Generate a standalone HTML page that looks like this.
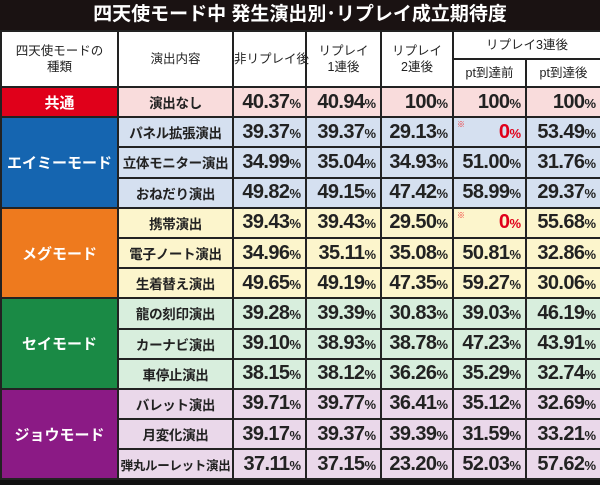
<!DOCTYPE html><html><head><meta charset="utf-8"><style>
body{margin:0;width:600px;height:485px;background:#111;overflow:hidden;font-family:"Liberation Sans","Noto Sans CJK JP",sans-serif}
.t{height:30px;color:#fff;font-weight:bold;font-size:19px;text-align:center;line-height:30px;background:#1a1212}
table{border-collapse:collapse;position:absolute;top:30px;left:0;width:600px;table-layout:fixed}
td{border:2px solid #222;padding:0;text-align:center;font-size:13px;color:#222}
.h td{background:#fff;font-size:12.5px;line-height:16px;white-space:nowrap}
.m{color:#fff;font-weight:bold;font-size:15px}
.r td{height:28.2px}
.e{font-weight:bold;font-size:13.5px;white-space:nowrap;letter-spacing:-0.3px}
.n{font-weight:bold;font-size:20px;text-align:right;padding-right:4px;color:#222;position:relative;letter-spacing:-0.6px;white-space:nowrap}
.n small{font-size:13px;letter-spacing:0}
.z{color:#e0001a}
.z:before{content:"※";position:absolute;left:3px;top:1px;font-size:8px;color:#e33}
</style></head><body>
<div class="t">四天使モード中 発生演出別･リプレイ成立期待度</div>
<table>
<colgroup><col style="width:117px"><col style="width:115px"><col style="width:73px"><col style="width:75px"><col style="width:72px"><col style="width:73px"><col style="width:75px"></colgroup>
<tr class="h"><td rowspan="2" style="height:54px">四天使モードの<br>種類</td><td rowspan="2">演出内容</td><td rowspan="2">非リプレイ後</td><td rowspan="2">リプレイ<br>1連後</td><td rowspan="2">リプレイ<br>2連後</td><td colspan="2" style="height:25px">リプレイ3連後</td></tr>
<tr class="h"><td style="height:25px">pt到達前</td><td>pt到達後</td></tr>
<tr class="r" style="background:#f9dcdc"><td class="m" style="background:#e0001a">共通</td><td class="e">演出なし</td><td class="n">40.37<small>%</small></td><td class="n">40.94<small>%</small></td><td class="n">100<small>%</small></td><td class="n">100<small>%</small></td><td class="n">100<small>%</small></td></tr>
<tr class="r" style="background:#d5e0f0"><td class="m" rowspan="3" style="background:#1565b0">エイミーモード</td><td class="e">パネル拡張演出</td><td class="n">39.37<small>%</small></td><td class="n">39.37<small>%</small></td><td class="n">29.13<small>%</small></td><td class="n z">0<small>%</small></td><td class="n">53.49<small>%</small></td></tr>
<tr class="r" style="background:#d5e0f0"><td class="e">立体モニター演出</td><td class="n">34.99<small>%</small></td><td class="n">35.04<small>%</small></td><td class="n">34.93<small>%</small></td><td class="n">51.00<small>%</small></td><td class="n">31.76<small>%</small></td></tr>
<tr class="r" style="background:#d5e0f0"><td class="e">おねだり演出</td><td class="n">49.82<small>%</small></td><td class="n">49.15<small>%</small></td><td class="n">47.42<small>%</small></td><td class="n">58.99<small>%</small></td><td class="n">29.37<small>%</small></td></tr>
<tr class="r" style="background:#fcf5cc"><td class="m" rowspan="3" style="background:#ee7a1e">メグモード</td><td class="e">携帯演出</td><td class="n">39.43<small>%</small></td><td class="n">39.43<small>%</small></td><td class="n">29.50<small>%</small></td><td class="n z">0<small>%</small></td><td class="n">55.68<small>%</small></td></tr>
<tr class="r" style="background:#fcf5cc"><td class="e">電子ノート演出</td><td class="n">34.96<small>%</small></td><td class="n">35.11<small>%</small></td><td class="n">35.08<small>%</small></td><td class="n">50.81<small>%</small></td><td class="n">32.86<small>%</small></td></tr>
<tr class="r" style="background:#fcf5cc"><td class="e">生着替え演出</td><td class="n">49.65<small>%</small></td><td class="n">49.19<small>%</small></td><td class="n">47.35<small>%</small></td><td class="n">59.27<small>%</small></td><td class="n">30.06<small>%</small></td></tr>
<tr class="r" style="background:#d8eedd"><td class="m" rowspan="3" style="background:#1a8a45">セイモード</td><td class="e">龍の刻印演出</td><td class="n">39.28<small>%</small></td><td class="n">39.39<small>%</small></td><td class="n">30.83<small>%</small></td><td class="n">39.03<small>%</small></td><td class="n">46.19<small>%</small></td></tr>
<tr class="r" style="background:#d8eedd"><td class="e">カーナビ演出</td><td class="n">39.10<small>%</small></td><td class="n">38.93<small>%</small></td><td class="n">38.78<small>%</small></td><td class="n">47.23<small>%</small></td><td class="n">43.91<small>%</small></td></tr>
<tr class="r" style="background:#d8eedd"><td class="e">車停止演出</td><td class="n">38.15<small>%</small></td><td class="n">38.12<small>%</small></td><td class="n">36.26<small>%</small></td><td class="n">35.29<small>%</small></td><td class="n">32.74<small>%</small></td></tr>
<tr class="r" style="background:#ead8ea"><td class="m" rowspan="3" style="background:#8b1a85">ジョウモード</td><td class="e">バレット演出</td><td class="n">39.71<small>%</small></td><td class="n">39.77<small>%</small></td><td class="n">36.41<small>%</small></td><td class="n">35.12<small>%</small></td><td class="n">32.69<small>%</small></td></tr>
<tr class="r" style="background:#ead8ea"><td class="e">月変化演出</td><td class="n">39.17<small>%</small></td><td class="n">39.37<small>%</small></td><td class="n">39.39<small>%</small></td><td class="n">31.59<small>%</small></td><td class="n">33.21<small>%</small></td></tr>
<tr class="r" style="background:#ead8ea"><td class="e" style="font-size:12.5px">弾丸ルーレット演出</td><td class="n">37.11<small>%</small></td><td class="n">37.15<small>%</small></td><td class="n">23.20<small>%</small></td><td class="n">52.03<small>%</small></td><td class="n">57.62<small>%</small></td></tr>
</table></body></html>
